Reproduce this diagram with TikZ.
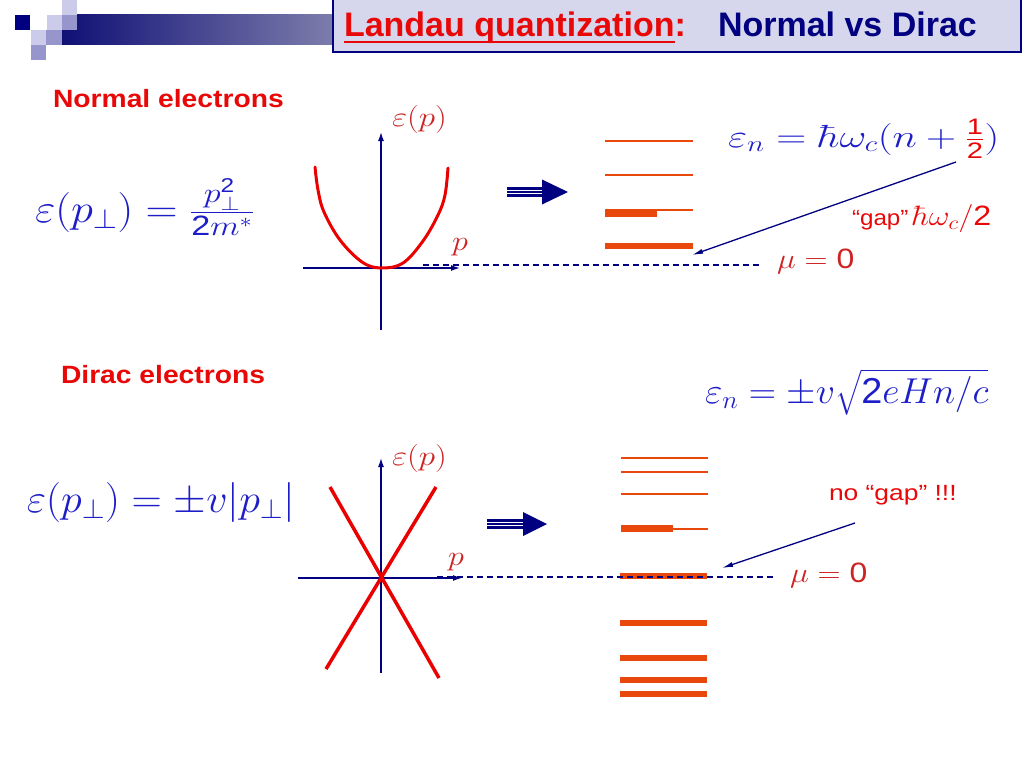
\RequirePackage{fix-cm}
\documentclass[tikz,border=0pt]{standalone}
\usepackage{graphicx}
\usepackage{amsmath}
\usepackage{fontspec}
\newfontfamily\hv{Liberation Sans}
\usetikzlibrary{arrows.meta}
\definecolor{navy}{RGB}{0,0,128}
\definecolor{mblue}{RGB}{30,30,200}
\definecolor{tred}{RGB}{232,8,8}
\definecolor{lred}{RGB}{205,35,35}
\definecolor{lvl}{RGB}{232,72,12}
\definecolor{boxfill}{RGB}{214,214,236}
\definecolor{sqlight}{RGB}{204,204,234}
\definecolor{sqmed}{RGB}{150,150,204}
\newcommand{\dg}[1]{\text{\hv #1}}
\newcommand{\sx}[2]{\scalebox{#1}[1]{#2}}
\tikzset{
  txt/.style={inner sep=0pt, outer sep=0pt},
  headred/.style={txt, font=\hv\bfseries\fontsize{34}{40}\selectfont, text=tred},
  headblue/.style={txt, font=\hv\bfseries\fontsize{34}{40}\selectfont, text=navy},
  subhead/.style={txt, font=\hv\bfseries\fontsize{25}{30}\selectfont, text=tred},
  bigmath/.style={txt, font=\fontsize{32}{36}\selectfont, text=mblue},
  hugemath/.style={txt, font=\fontsize{40}{44}\selectfont, text=mblue},
  redmath/.style={txt, font=\fontsize{28}{32}\selectfont, text=lred},
  note/.style={txt, font=\hv\fontsize{22}{26}\selectfont, text=tred},
  axis/.style={navy, line width=1.4pt, -{Latex[length=9pt,width=6pt]}},
  thinlevel/.style={lvl, line width=1.5pt},
  thicklevel/.style={lvl, line width=6.5pt},
  mudash/.style={navy, line width=1.3pt, dash pattern=on 6pt off 4pt},
  pointer/.style={navy, line width=1.3pt, -{Latex[length=11pt,width=5pt]}},
  curve/.style={red!92!black, line width=3pt, line cap=round},
  cross/.style={red!92!black, line width=3.5pt},
}
\begin{document}
\begin{tikzpicture}[x=1pt,y=-1pt]
\useasboundingbox (0,0) rectangle (1024,768);
\fill[white] (0,0) rectangle (1024,768);

% logo
\shade[left color={rgb,255:red,16;green,16;blue,118}, right color={rgb,255:red,125;green,125;blue,172}] (62,15) rectangle (334,45);
\fill[navy] (15,15) rectangle (30,30);
\fill[sqlight] (47,15) rectangle (62,30);
\fill[sqmed] (62,15) rectangle (77,30);
\fill[sqlight] (62,0) rectangle (77,15);
\fill[sqlight] (31,30) rectangle (46,45);
\fill[sqmed] (46,30) rectangle (62,45);
\fill[sqmed] (31,45) rectangle (46,60);

% title
\draw[navy, line width=1.5pt, fill=boxfill] (333,-2) rectangle (1021,52);
\node[headred, anchor=base west] (t1) at (344,37) {Landau quantization};
\node[headred, anchor=base west] (t1c) at (t1.base east) {:};
\draw[tred, line width=2.8pt] ([yshift=-5pt]t1.base west) -- ([yshift=-5pt]t1.base east);
\node[headblue, anchor=base west] (t2) at (718,37) {Normal vs Dirac};

% ---------- normal electrons ----------
\node[subhead, anchor=west] (hn) at (53,99) {\sx{1.13}{Normal electrons}};
\node[hugemath, anchor=base west] (fn) at (35,222) {\sx{1.11}{$\varepsilon(p_\perp) = {}$\sx{1.1}{$\tfrac{p_\perp^{\dg{2}}}{\dg{2}m^*}$}}};

\draw[axis] (381,330) -- (381,132);
\draw[axis] (303,268) -- (460,268);
\node[redmath, anchor=base west] (ep1) at (392,126) {\sx{1.18}{$\varepsilon(p)$}};
\node[redmath, anchor=base west] (p1) at (452,250) {\sx{1.15}{$p$}};
\draw[curve] plot[smooth, tension=0.6] coordinates {(315,167) (318,190) (324,212) (340,240) (362,262) (381,268) (403,263) (423,241) (438,215) (445,195) (448,168)};

% double arrow
\fill[navy] (507,187) rectangle (543,197);
\draw[white, line width=0.9pt] (507,190.3) -- (543,190.3);
\draw[white, line width=0.9pt] (507,193.7) -- (543,193.7);
\fill[navy] (542,179.5) -- (568,192) -- (542,204.5) -- cycle;

% levels
\draw[thinlevel] (605,141) -- (693,141);
\draw[thinlevel] (605,175) -- (693,175);
\draw[thinlevel] (605,210) -- (693,210);
\draw[thicklevel] (605,213.5) -- (657,213.5);
\draw[thicklevel] (605,246) -- (693,246);

\node[bigmath, anchor=base west] (en1) at (728,147) {\sx{1.3}{$\varepsilon_n = \hbar\omega_c(n+{\color{tred}\tfrac{\dg{1}}{\dg{2}}})$}};
\node[note, anchor=base west] (gap) at (852,225) {\sx{1.1}{“gap”}\,{\color{tred}\fontsize{28}{32}\selectfont\sx{1.15}{$\hbar\omega_c/\dg{2}$}}};
\node[redmath, anchor=base west] (mu1) at (777,268) {\sx{1.14}{$\mu = \dg{0}$}};
\coordinate (d1s) at (423,265);
\coordinate (d1e) at (762,265);
\draw[mudash] (d1s) -- (d1e);
\coordinate (g1s) at (956,162);
\coordinate (g1e) at (692,255);
\draw[pointer] (g1s) -- (g1e);

% ---------- Dirac electrons ----------
\node[subhead, anchor=west] (hd) at (61,375) {\sx{1.13}{Dirac electrons}};
\node[hugemath, anchor=base west] (fd) at (27,512) {\sx{1.05}{$\varepsilon(p_\perp) = \pm v|p_\perp|$}};

\draw[axis] (381,673) -- (381,458);
\draw[axis] (298,578) -- (462,578);
\node[redmath, anchor=base west] (ep2) at (392,465) {\sx{1.18}{$\varepsilon(p)$}};
\node[redmath, anchor=base west] (p2) at (448,565) {\sx{1.15}{$p$}};
\draw[cross] (330,487) -- (439,678);
\draw[cross] (326,669) -- (436,487);

% double arrow
\fill[navy] (487,519) rectangle (524,529);
\draw[white, line width=0.9pt] (487,522.3) -- (524,522.3);
\draw[white, line width=0.9pt] (487,525.7) -- (524,525.7);
\fill[navy] (523,512) -- (547,524) -- (523,536) -- cycle;

% levels
\draw[lvl, line width=2pt] (621,458) -- (708,458);
\draw[thinlevel] (621,472) -- (708,472);
\draw[thinlevel] (621,494) -- (708,494);
\draw[thinlevel] (621,529) -- (708,529);
\draw[thicklevel] (621,528.5) -- (673,528.5);
\draw[thicklevel] (620,576) -- (707,576);
\draw[thicklevel] (620,623) -- (707,623);
\draw[thicklevel] (620,658) -- (707,658);
\draw[thicklevel] (620,680) -- (707,680);
\draw[thicklevel] (620,694) -- (707,694);

\node[txt, font=\fontsize{36}{40}\selectfont, text=mblue, anchor=base west] (en2) at (705,403) {\sx{1.05}{$\varepsilon_n = \pm v\sqrt{\dg{2}eHn/c}$}};
\node[note, anchor=base west] (nogap) at (829,500) {\sx{1.2}{no “gap” !!!}};
\node[redmath, anchor=base west] (mu2) at (790,582) {\sx{1.14}{$\mu = \dg{0}$}};
\coordinate (d2s) at (437,577);
\coordinate (d2e) at (773,577);
\draw[mudash] (d2s) -- (d2e);
\coordinate (g2s) at (855,523);
\coordinate (g2e) at (722,568);
\draw[pointer] (g2s) -- (g2e);
\end{tikzpicture}
\end{document}
